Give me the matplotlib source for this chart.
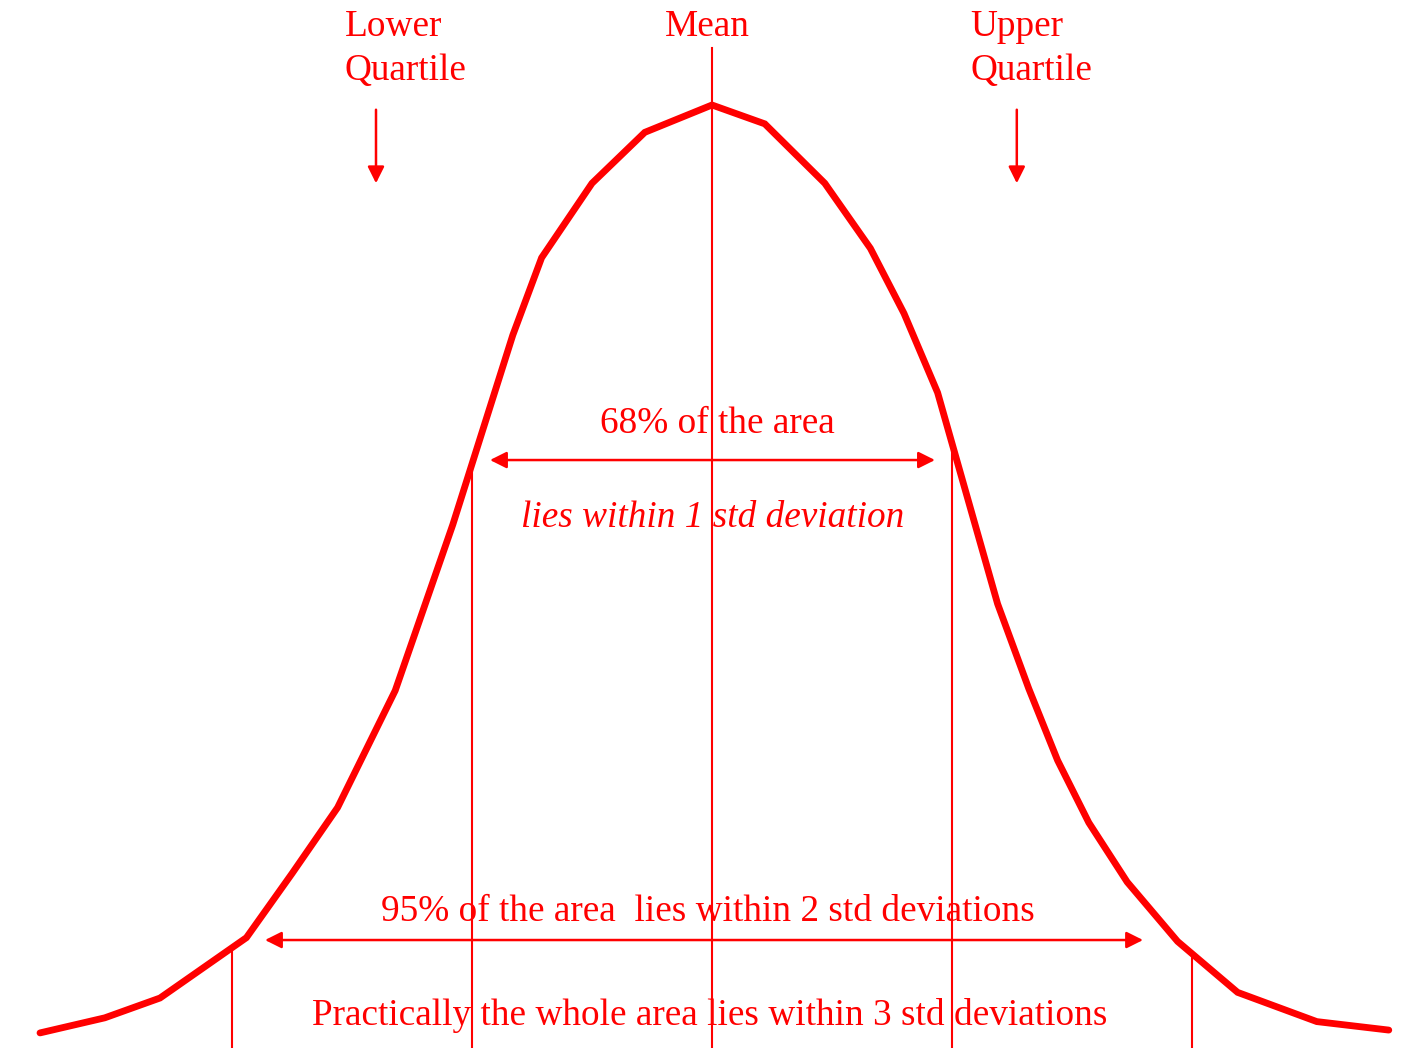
import numpy as np
import matplotlib
matplotlib.use('Agg')
import matplotlib.pyplot as plt

RED = '#FF0000'

# ── Curve vertices: x in std deviations, y as height relative to peak ──
curve_sd = [-2.80, -2.53, -2.30, -1.94, -1.75, -1.56, -1.32, -1.08, -0.83,
            -0.71, -0.50, -0.28, 0.00, 0.22, 0.47, 0.66, 0.80, 0.94,
            1.19, 1.32, 1.44, 1.57, 1.73, 1.94, 2.19, 2.52, 2.82]
curve_h = [0.016, 0.032, 0.053, 0.117, 0.185, 0.255, 0.379, 0.555, 0.756,
           0.838, 0.917, 0.971, 1.000, 0.980, 0.917, 0.848, 0.779, 0.695,
           0.471, 0.381, 0.305, 0.239, 0.176, 0.113, 0.059, 0.028, 0.019]

sd_marks = [-2, -1, 0, 1, 2]
mean_top = 1.060

quartile_sd = [-1.40, 1.27]
quartile_labels = [('Lower', 'Quartile'), ('Upper', 'Quartile')]
quartile_label_sd = [-1.53, 1.075]

span68 = (-0.925, 0.929)
span95 = (-1.8625, 1.796)

plt.rcParams['font.family'] = ['Liberation Serif', 'DejaVu Serif']

fig = plt.figure(figsize=(14.2, 10.48), dpi=100)
fig.patch.set_facecolor('white')
ax = fig.add_axes([0, 0, 1, 1])
ax.set_xlim(-712 / 240, 708 / 240)
ax.set_ylim(0, 1048 / 943)
ax.axis('off')

# ── Bell curve ──
ax.plot(curve_sd, curve_h, color=RED, linewidth=4.9,
        solid_joinstyle='miter', solid_capstyle='round', zorder=3)

# ── Vertical std-deviation lines (start at the curve) ──
for s in sd_marks:
    top = mean_top if s == 0 else np.interp(s, curve_sd, curve_h)
    ax.plot([s, s], [0, top], color=RED, linewidth=1.5, zorder=2)

# ── Double-headed arrows ──
arrow_kw = dict(arrowstyle='<|-|>', color=RED, lw=1.8,
                mutation_scale=25, shrinkA=0, shrinkB=0)
ax.annotate('', xy=(span68[0], 0.6235), xytext=(span68[1], 0.6235),
            arrowprops=arrow_kw)
ax.annotate('', xy=(span95[0], 0.1145), xytext=(span95[1], 0.1145),
            arrowprops=arrow_kw)

# ── Quartile arrows ──
for q in quartile_sd:
    ax.annotate('', xy=(q, 0.917), xytext=(q, 0.995),
                arrowprops=dict(arrowstyle='-|>', color=RED, lw=1.8,
                                mutation_scale=25, shrinkA=0, shrinkB=0))

# ── Labels ──
fs = 26.8
for (l1, l2), xs in zip(quartile_labels, quartile_label_sd):
    ax.text(xs, 1.0732, l1, color=RED, fontsize=fs, ha='left', va='baseline')
    ax.text(xs, 1.0265, l2, color=RED, fontsize=fs, ha='left', va='baseline')
ax.text(-0.021, 1.0732, 'Mean', color=RED, fontsize=fs, ha='center', va='baseline')

ax.text(0.021, 0.652, '68% of the area', color=RED, fontsize=fs,
        ha='center', va='baseline')
ax.text(0.004, 0.5525, 'lies within 1 std deviation', color=RED, fontsize=fs,
        style='italic', ha='center', va='baseline')
ax.text(-0.017, 0.1347, '95% of the area  lies within 2 std deviations',
        color=RED, fontsize=fs, ha='center', va='baseline')
ax.text(-0.01, 0.0244, 'Practically the whole area lies within 3 std deviations',
        color=RED, fontsize=fs, ha='center', va='baseline')

fig.savefig('out.png', dpi=100, facecolor='white')
